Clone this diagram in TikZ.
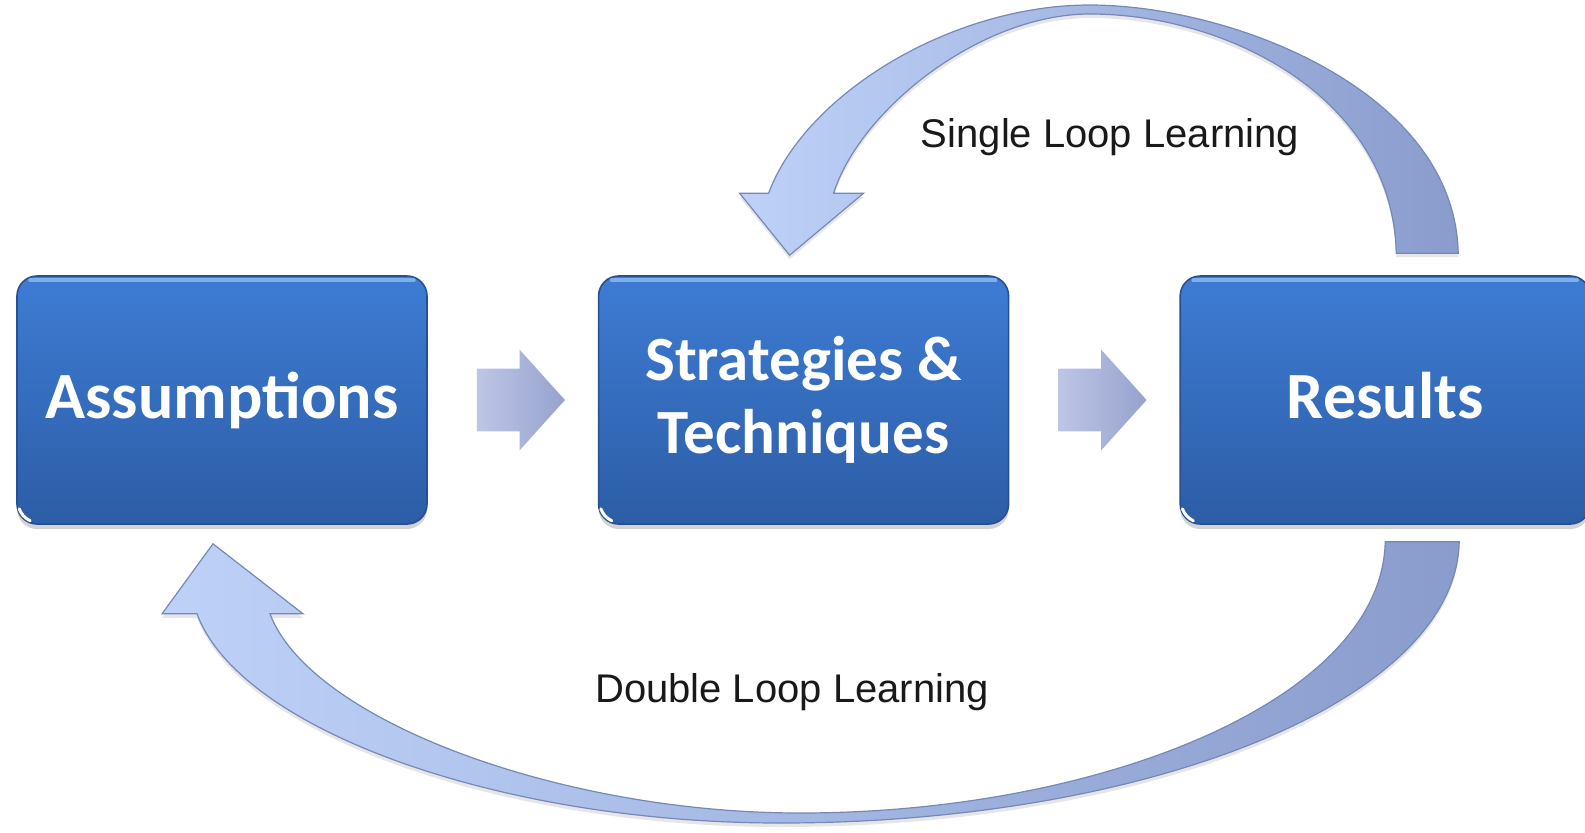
\documentclass[tikz,border=0pt]{standalone}
\usepackage{fontspec}
\setmainfont{Liberation Sans}
\newfontfamily\calfont{Carlito}
\usetikzlibrary{positioning,calc,shapes.arrows,shadows}

\definecolor{boxtop}{RGB}{62,124,212}
\definecolor{boxbot}{RGB}{44,93,166}
\definecolor{boxline}{RGB}{38,80,145}
\definecolor{boxgloss}{RGB}{125,175,238}
\definecolor{flowlight}{RGB}{190,198,230}
\definecolor{flowdark}{RGB}{150,162,206}
\definecolor{looplight}{RGB}{190,210,248}
\definecolor{loopdark}{RGB}{138,156,204}
\definecolor{loopline}{RGB}{118,136,184}

\begin{document}
\begin{tikzpicture}[x=0.5pt,y=-0.5pt,
	stagebox/.style={rectangle,rounded corners=10pt,draw=boxline,line width=0.8pt,
		top color=boxtop,bottom color=boxbot,minimum width=205pt,minimum height=124pt,
		text=white,font=\calfont\bfseries\fontsize{33}{36.5}\selectfont,align=center,
		text height=25pt,text depth=6.6pt,
		drop shadow={shadow xshift=0pt,shadow yshift=-2.5pt,opacity=0.35}},
	gloss/.style={boxgloss,line width=2pt,line cap=round},
	glint/.style={white,line width=1.5pt,line cap=round},
	flowarrow/.style={single arrow,single arrow head extend=9.5pt,single arrow tip angle=96,
		minimum height=44pt,minimum width=50pt,inner xsep=0pt,inner ysep=15.5pt,draw=none,
		left color=flowlight,right color=flowdark,xshift=-3pt},
	loopshaft/.style={left color=looplight,right color=loopdark,draw=loopline,line width=0.6pt,
		drop shadow={shadow xshift=0pt,shadow yshift=-2pt,opacity=0.2}},
	looplabel/.style={font=\fontsize{20}{24}\selectfont,text=black!90,inner sep=0pt,anchor=base}]

		\useasboundingbox (0,0) rectangle (1585,832);

		% the three stages
		\node[stagebox] 							(assume)	at (222,400) {Assumptions};
		\node[stagebox,right=85pt of assume,text height=,text depth=,
			font=\calfont\bfseries\fontsize{31.5}{36.5}\selectfont]	(strat)	{Strategies \&\\Techniques};
		\node[stagebox,right=85pt of strat] 		(result)	{Results};

		\draw[gloss] ($(assume.north west)+(14,5)$) -- ($(assume.north east)+(-14,5)$);
		\draw[gloss] ($(strat.north west)+(14,5)$) -- ($(strat.north east)+(-14,5)$);
		\draw[gloss] ($(result.north west)+(14,5)$) -- ($(result.north east)+(-14,5)$);
		\draw[glint] ($(assume.south west)+(3,-16)$) to[bend right=20] ($(assume.south west)+(14,-4)$);
		\draw[glint] ($(strat.south west)+(3,-16)$) to[bend right=20] ($(strat.south west)+(14,-4)$);
		\draw[glint] ($(result.south west)+(3,-16)$) to[bend right=20] ($(result.south west)+(14,-4)$);

		% straight steps
		\node[flowarrow] (step1) at ($(assume.east)!0.5!(strat.west)$) {};
		\node[flowarrow] (step2) at ($(strat.east)!0.5!(result.west)$) {};

		% single loop
		\coordinate (sl-in)  at ($(result.north)+(11,-22)$);
		\coordinate (sl-out) at ($(result.north)+(73,-22)$);
		\coordinate (sl-tip) at ($(strat.north)+(-14,-20)$);
		\draw[loopshaft] (sl-out) -- (sl-in)
			.. controls (1393,100) and (1230,14) .. (1090,14)
			.. controls (980,14) and (860,110) .. ($(sl-tip)+(44,-62)$)
			-- ($(sl-tip)+(74,-62)$) -- (sl-tip) -- ($(sl-tip)+(-50,-62)$) -- ($(sl-tip)+(-21,-62)$)
			.. controls (805,95) and (950,5) .. (1090,5)
			.. controls (1230,5) and (1455,90) .. (sl-out) -- cycle;

		% double loop
		\coordinate (dl-in)  at ($(result.south)+(0,17)$);
		\coordinate (dl-out) at ($(result.south)+(74,17)$);
		\coordinate (dl-tip) at ($(assume.south)+(-9,19)$);
		\draw[loopshaft] (dl-in) -- (dl-out)
			.. controls (1456,700) and (1150,823) .. (780,823)
			.. controls (500,823) and (240,730) .. ($(dl-tip)+(-16,70)$)
			-- ($(dl-tip)+(-51,70)$) -- (dl-tip) -- ($(dl-tip)+(90,70)$) -- ($(dl-tip)+(57,70)$)
			.. controls (310,720) and (560,813) .. (800,813)
			.. controls (1100,813) and (1382,700) .. (dl-in) -- cycle;

		\node[looplabel] (single) at (1110,147) {Single Loop Learning};
		\node[looplabel] (double) at (792,702) {Double Loop Learning};
	\end{tikzpicture}
\end{document}
